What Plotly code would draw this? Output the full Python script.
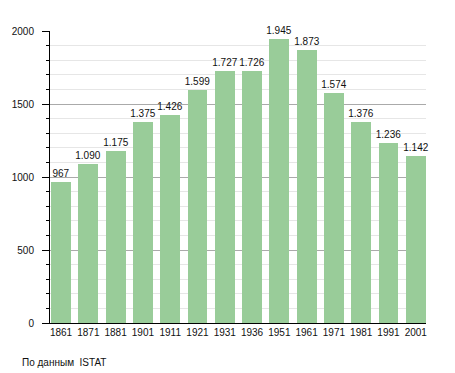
import plotly.graph_objects as go

years = ["1861", "1871", "1881", "1901", "1911", "1921", "1931", "1936",
         "1951", "1961", "1971", "1981", "1991", "2001"]
population = [967, 1090, 1175, 1375, 1426, 1599, 1727, 1726,
              1945, 1873, 1574, 1376, 1236, 1142]

def fmt(v):
    s = f"{v:,}".replace(",", ".")
    return s

idx = list(range(len(years)))
W = 0.73

fig = go.Figure(go.Bar(
    x=idx, y=population, width=W, offset=0.04,
    marker=dict(color="#99cc99", line=dict(width=0)),
    text=[fmt(v) for v in population], textposition="outside",
    constraintext="none",
    textfont=dict(family="Liberation Sans, Arial", size=10, color="#111"),
    cliponaxis=False,
))

fig.update_layout(
    width=447, height=365,
    margin=dict(l=42, r=29, t=23, b=50),
    paper_bgcolor="white", plot_bgcolor="white",
    showlegend=False, bargap=0,
    font=dict(family="Liberation Sans, Arial", size=10, color="#111"),
)
fig.update_xaxes(
    range=[0, 13.78], tickmode="array", automargin=False,
    tickvals=[i + 0.04 + W / 2 for i in idx], ticktext=years,
    showline=True, linecolor="black", linewidth=1, ticks="",
    showgrid=False, zeroline=False, tickfont=dict(size=10),
)
fig.update_yaxes(
    range=[0, 2000], dtick=500, tick0=0, automargin=False,
    showline=True, linecolor="black", linewidth=1,
    ticks="outside", ticklen=7, tickcolor="black",
    ticklabelstandoff=6,
    showgrid=True, gridcolor="#aaaaaa", gridwidth=1, zeroline=False,
    minor=dict(dtick=100, ticks="outside", ticklen=3, tickcolor="black",
               showgrid=True, gridcolor="#e6e6e6", gridwidth=1),
    tickfont=dict(size=10),
)
fig.add_annotation(
    text="По данным  ISTAT", xref="paper", yref="paper",
    x=-0.08, y=-0.134, xanchor="left", yanchor="middle",
    showarrow=False, font=dict(size=10, color="#111"),
)
fig.write_html("out.html")
